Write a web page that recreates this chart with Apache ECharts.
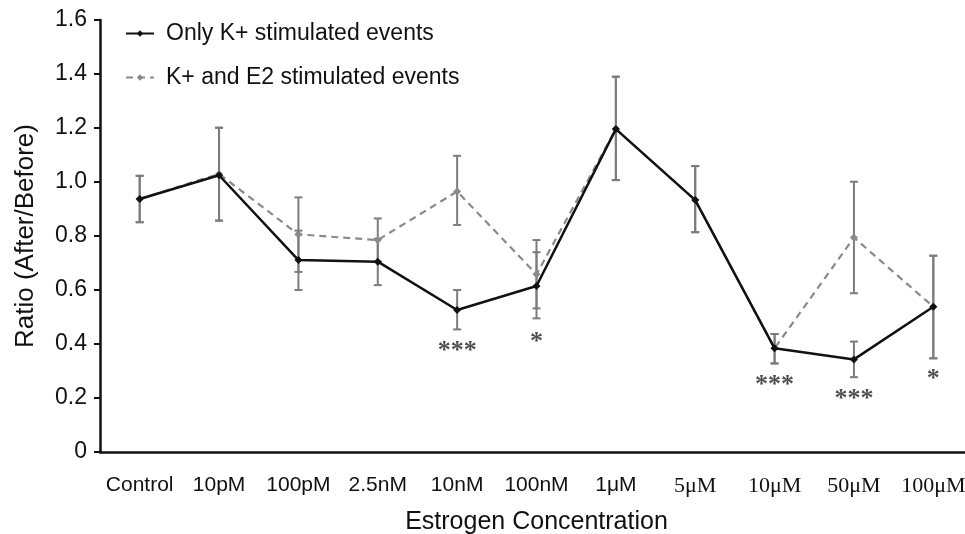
<!DOCTYPE html>
<html>
<head>
<meta charset="utf-8">
<script src="https://cdn.jsdelivr.net/npm/echarts@6/dist/echarts.min.js"></script>
<style>
  html, body { margin: 0; padding: 0; background: #fff; }
  #chart { width: 965px; height: 534px; }
</style>
</head>
<body>
<div id="chart"></div>
<script>
// categories on x axis
var concentrations = ['Control', '10pM', '100pM', '2.5nM', '10nM', '100nM', '1μM', '5μM', '10μM', '50μM', '100μM'];

// mean ratios
var onlyK = [0.937, 1.025, 0.711, 0.705, 0.526, 0.615, 1.196, 0.933, 0.384, 0.343, 0.538];
var kE2   = [0.937, 1.030, 0.806, 0.785, 0.965, 0.658, 1.196, 0.933, 0.384, 0.794, 0.538];

// error bar ends (low / high)
var onlyKLow  = [0.851, 0.857, 0.600, 0.618, 0.454, 0.495, 1.007, 0.814, 0.328, 0.277, 0.347];
var onlyKHigh = [1.023, 1.201, 0.820, 0.790, 0.600, 0.740, 1.390, 1.059, 0.437, 0.409, 0.727];
var kE2Low    = [0.851, 0.857, 0.667, 0.705, 0.841, 0.532, 1.007, 0.814, 0.328, 0.588, 0.347];
var kE2High   = [1.023, 1.201, 0.943, 0.865, 1.097, 0.785, 1.390, 1.059, 0.437, 1.001, 0.727];

// significance marks
var sigCats   = ['10nM', '100nM', '10μM', '50μM', '100μM'];
var sigText   = ['***', '*', '***', '***', '*'];
var sigY      = [0.373, 0.405, 0.247, 0.194, 0.268];

var yTicks = [0, 0.2, 0.4, 0.6, 0.8, 1.0, 1.2, 1.4, 1.6];

var myChart = echarts.init(document.getElementById('chart'));

function errData(low, high) {
    return concentrations.map(function (c, i) { return [i, low[i], high[i]]; });
}

function renderError(params, api) {
    var x = api.value(0);
    var lo = api.coord([x, api.value(1)]);
    var hi = api.coord([x, api.value(2)]);
    var cap = 4;
    var style = { stroke: '#7c7c7c', lineWidth: 2 };
    return {
        type: 'group',
        children: [
            { type: 'line', shape: { x1: lo[0], y1: lo[1], x2: hi[0], y2: hi[1] }, style: style },
            { type: 'line', shape: { x1: lo[0] - cap, y1: lo[1], x2: lo[0] + cap, y2: lo[1] }, style: style },
            { type: 'line', shape: { x1: hi[0] - cap, y1: hi[1], x2: hi[0] + cap, y2: hi[1] }, style: style }
        ]
    };
}

var option = {
    animation: false,
    textStyle: { fontFamily: 'Liberation Sans, Arial, sans-serif' },
    legend: {
        orient: 'vertical',
        left: 120,
        top: 17,
        itemWidth: 28,
        itemHeight: 8,
        itemGap: 21,
        textStyle: { fontSize: 23, color: '#111', padding: [0, 0, 0, 7] },
        data: ['Only K+ stimulated events', 'K+ and E2 stimulated events']
    },
    grid: { left: 100, right: -8, top: 20, bottom: 82, outerBoundsMode: 'none', containLabel: false },
    xAxis: {
        type: 'category',
        data: concentrations,
        name: 'Estrogen Concentration',
        nameLocation: 'middle',
        nameGap: 58,
        nameTextStyle: { fontSize: 25, color: '#111' },
        axisLine: { lineStyle: { color: '#111', width: 2.5 } },
        axisTick: { alignWithLabel: true, length: 6, lineStyle: { color: '#111', width: 2 } },
        axisLabel: {
            interval: 0,
            hideOverlap: false,
            fontSize: 21,
            color: '#111',
            margin: 23,
            formatter: function (v, i) {
                return i >= 7 ? '{s|' + v + '}' : v;
            },
            rich: { s: { fontFamily: 'Liberation Serif, Times New Roman, serif', fontSize: 22, color: '#111' } }
        }
    },
    yAxis: {
        type: 'value',
        min: yTicks[0],
        max: yTicks[yTicks.length - 1],
        interval: 0.2,
        name: 'Ratio (After/Before)',
        nameLocation: 'middle',
        nameGap: 61,
        nameTextStyle: { fontSize: 26, color: '#111' },
        axisLine: { show: true, lineStyle: { color: '#111', width: 2.5 } },
        axisTick: { show: true, length: 6, lineStyle: { color: '#111', width: 2 } },
        splitLine: { show: false },
        axisLabel: {
            fontSize: 23,
            color: '#111',
            margin: 13,
            formatter: function (v) { return v === 0 ? '0' : v.toFixed(1); }
        }
    },
    series: [
        {
            type: 'custom',
            name: 'errK',
            renderItem: renderError,
            data: errData(onlyKLow, onlyKHigh),
            z: 1,
            silent: true
        },
        {
            type: 'custom',
            name: 'errE2',
            renderItem: renderError,
            data: errData(kE2Low, kE2High),
            z: 1,
            silent: true
        },
        {
            name: 'K+ and E2 stimulated events',
            type: 'line',
            data: kE2,
            symbol: 'diamond',
            symbolSize: 8,
            itemStyle: { color: '#8a8a8a' },
            lineStyle: { color: '#8a8a8a', width: 2.2, type: [7, 5] },
            z: 3
        },
        {
            name: 'Only K+ stimulated events',
            type: 'line',
            data: onlyK,
            symbol: 'diamond',
            symbolSize: 8,
            itemStyle: { color: '#111' },
            lineStyle: { color: '#111', width: 2.5 },
            z: 4
        },
        {
            type: 'scatter',
            name: 'sig',
            symbolSize: 0,
            silent: true,
            data: sigCats.map(function (c, i) { return [c, sigY[i], sigText[i]]; }),
            label: {
                show: true,
                position: 'inside',
                formatter: function (p) { return p.value[2]; },
                fontFamily: 'Liberation Serif, Times New Roman, serif',
                fontSize: 26,
                fontWeight: 'bold',
                color: '#222'
            },
            z: 5
        }
    ]
};

myChart.setOption(option);
</script>
</body>
</html>
